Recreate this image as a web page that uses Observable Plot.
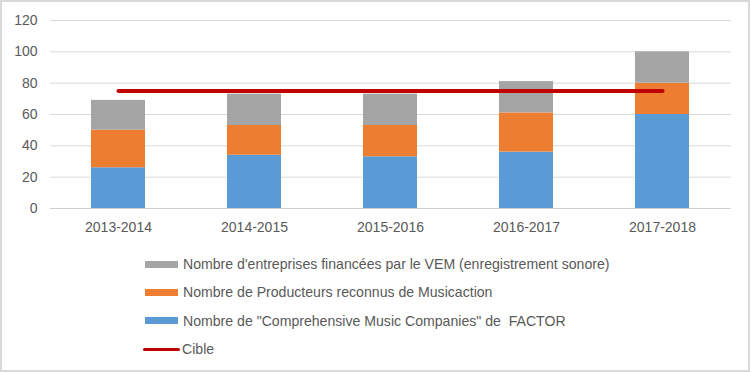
<!DOCTYPE html>
<html>
<head>
<meta charset="utf-8">
<script src="https://cdn.jsdelivr.net/npm/d3@7"></script>
<script src="https://cdn.jsdelivr.net/npm/@observablehq/plot@0.6"></script>
<style>
  html, body { margin: 0; padding: 0; background: #fff; }
  #frame { width: 750px; height: 372px; box-sizing: border-box; border: 2px solid #d9d9d9; position: relative; overflow: hidden; font-family: "Liberation Sans", Arial, sans-serif; color: #595959; }
  #legend { position: absolute; left: 143px; top: 248px; }
  .row { height: 28.3px; display: flex; align-items: center; font-size: 14.1px; color: #595959; }
  .sw { width: 33px; margin-right: 5px; }
</style>
</head>
<body>
<div id="frame"><div id="chart"></div><div id="legend"></div></div>
<script>
const years = ["2013-2014", "2014-2015", "2015-2016", "2016-2017", "2017-2018"];
const factor = [26, 34, 33, 36, 60];
const musicaction = [24, 19, 20, 25, 20];
const vem = [19, 20, 20, 20, 20];
const cible = [75, 75, 75, 75, 75];
const yTicks = [0, 20, 40, 60, 80, 100, 120];

const seriesNames = [
  "Nombre de \"Comprehensive Music Companies\" de  FACTOR",
  "Nombre de Producteurs reconnus de Musicaction",
  "Nombre d'entreprises financées par le VEM (enregistrement sonore)"
];
const seriesColors = ["#5B9BD5", "#ED7D31", "#A5A5A5"];
const cibleName = "Cible";
const cibleColor = "#C00000";

const seriesValues = [factor, musicaction, vem];
const bars = [];
seriesValues.forEach((vals, s) => vals.forEach((v, i) => bars.push({year: years[i], series: seriesNames[s], value: v})));
const cibleData = years.map((y, i) => ({year: y, value: cible[i]}));

const chart = Plot.plot({
  width: 746,
  height: 245,
  marginLeft: 48,
  marginRight: 17,
  marginTop: 18,
  marginBottom: 39,
  style: {fontFamily: "Liberation Sans, Arial, sans-serif", fontSize: "14px", color: "#595959", background: "#fff"},
  x: {domain: years, paddingInner: 0.6, paddingOuter: 0.3, label: null},
  y: {domain: [0, 120], ticks: yTicks, label: null},
  color: {domain: seriesNames, range: seriesColors},
  marks: [
    Plot.gridY(yTicks, {stroke: "#d9d9d9", strokeOpacity: 1, strokeWidth: 1}),
    Plot.barY(bars, {x: "year", y: "value", fill: "series"}),
    Plot.ruleY([0], {stroke: "#d0d0d0", strokeWidth: 1}),
    Plot.lineY(cibleData, {x: "year", y: "value", stroke: cibleColor, strokeWidth: 4, strokeLinecap: "round"}),
    Plot.axisY(yTicks, {tickSize: 0, tickPadding: 13, label: null, fill: "#595959"}),
    Plot.axisX({tickSize: 0, tickPadding: 14, label: null, fill: "#595959"})
  ]
});
document.getElementById("chart").appendChild(chart);

const legend = document.getElementById("legend");
const entries = [
  {name: seriesNames[2], color: seriesColors[2], line: false},
  {name: seriesNames[1], color: seriesColors[1], line: false},
  {name: seriesNames[0], color: seriesColors[0], line: false},
  {name: cibleName, color: cibleColor, line: true}
];
for (const e of entries) {
  const row = document.createElement("div");
  row.className = "row";
  const sw = document.createElement("span");
  sw.className = "sw";
  sw.style.background = e.color;
  sw.style.height = e.line ? "3px" : "7px";
  if (e.line) { sw.style.borderRadius = "2px"; sw.style.marginRight = "2px"; sw.style.width = "37px"; sw.style.marginLeft = "-2px"; }
  const t = document.createElement("span");
  t.textContent = e.name;
  t.style.whiteSpace = "pre";
  row.appendChild(sw);
  row.appendChild(t);
  legend.appendChild(row);
}
</script>
</body>
</html>
